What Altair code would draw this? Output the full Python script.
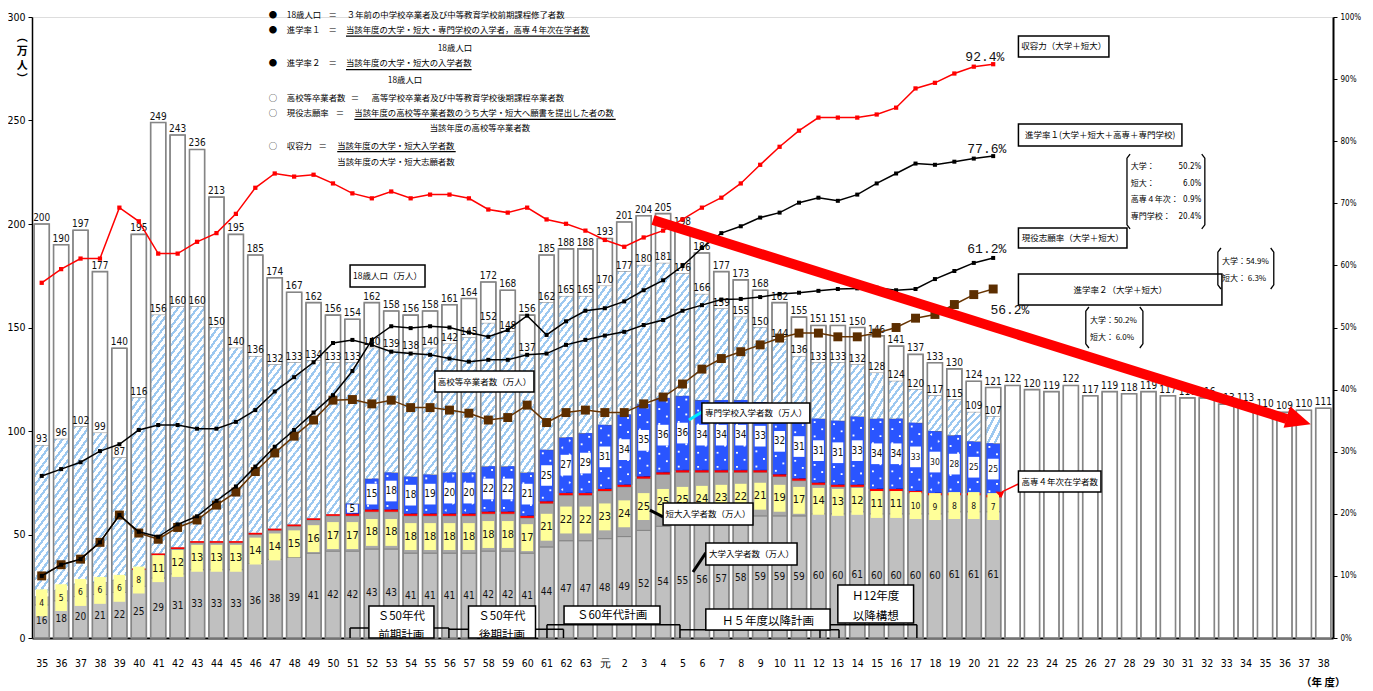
import altair as alt
import pandas as pd

# ---------------- data ----------------
tick_labels = [str(y) for y in range(35, 64)] + ["元"] + [str(y) for y in range(2, 39)]

pop = [200, 190, 197, 177, 140, 195, 249, 243, 236, 213, 195, 185, 174, 167, 162, 156,
       154, 162, 158, 156, 158, 161, 164, 172, 168, 156, 185, 188, 188, 193,
       201, 204, 205, 198, 186, 177, 173, 168, 162, 155, 151, 151, 150, 146, 141, 137, 133, 130, 124, 121,
       122, 120, 119, 122, 117, 119, 118, 119, 117, 116, 116, 113, 113, 110, 109, 110, 111]
hs = [93, 96, 102, 99, 87, 116, 156, 160, 160, 150, 140, 136, 132, 133, 134, 133,
      133, 140, 139, 138, 140, 142, 145, 152, 148, 137, 162, 165, 165, 170,
      177, 180, 181, 176, 166, 159, 155, 150, 144, 136, 133, 133, 132, 128, 124, 120, 117, 115, 109, 107]
univ = [16, 18, 20, 21, 22, 25, 29, 31, 33, 33, 33, 36, 38, 39, 41, 42,
        42, 43, 43, 41, 41, 41, 41, 42, 42, 41, 44, 47, 47, 48,
        49, 52, 54, 55, 56, 57, 58, 59, 59, 59, 60, 60, 61, 60, 60, 60, 60, 61, 61, 61]
jc = [4, 5, 6, 6, 6, 8, 11, 12, 13, 13, 13, 14, 14, 15, 16, 17,
      17, 18, 18, 18, 18, 18, 18, 18, 18, 17, 21, 22, 22, 23,
      24, 25, 25, 25, 24, 23, 22, 21, 19, 17, 14, 13, 12, 11, 11, 10, 9, 8, 8, 7]
kosen = [0, 0, 0, 0, 0, 0.5, 0.8, 0.8, 0.8, 0.8, 0.8, 0.8, 0.8, 0.8, 0.8, 0.8,
         1, 1, 1, 1, 1, 1, 1, 1, 1, 1, 1, 1, 1, 1,
         1, 1, 1, 1, 1, 1, 1, 1, 1, 1, 1, 1, 1, 1, 1, 1, 1, 1, 1, 1.1]
sen = [0, 0, 0, 0, 0, 0, 0, 0, 0, 0, 0, 0, 0, 0, 0, 0,
       5, 15, 18, 18, 19, 20, 20, 22, 22, 21, 25, 27, 29, 31,
       34, 35, 36, 36, 34, 34, 34, 33, 32, 31, 31, 31, 33, 34, 34, 33, 30, 28, 25, 25]

shuyo = [57.2, 59.4, 61.1, 61.1, 69.3, 67.1, 61.9, 61.9, 63.8, 65.2, 68.3, 72.5, 74.8, 74.3, 74.6, 73.2,
         71.6, 70.8, 71.9, 70.8, 71.4, 71.4, 70.8, 69.0, 68.5, 69.3, 67.4, 66.7, 65.6, 64.1,
         63.0, 64.5, 65.6, 67.4, 69.3, 70.9, 73.2, 76.2, 79.1, 81.7, 83.8, 83.8, 83.8, 84.3, 85.4, 88.5,
         89.4, 90.9, 92.0, 92.4]
rate1 = [10.0, 11.8, 12.7, 15.4, 19.8, 17.1, 16.3, 18.3, 19.6, 22.1, 24.4, 27.6, 30.8, 33.5, 36.3, 39.1,
         43.0, 48.0, 50.2, 49.9, 50.2, 50.0, 49.2, 48.5, 49.6, 51.9, 48.8, 51.0, 52.7, 53.1,
         54.2, 56.0, 57.6, 59.9, 62.8, 65.2, 66.3, 67.7, 68.5, 70.1, 70.9, 70.4, 71.4, 73.2, 74.8, 76.4,
         76.2, 76.7, 77.2, 77.6]
shigan = [26.1, 27.2, 28.3, 30.1, 31.2, 33.5, 34.3, 34.3, 33.7, 33.7, 34.8, 36.7, 39.7, 42.0, 44.4, 47.5,
          48.0, 47.2, 46.1, 45.8, 45.6, 45.0, 44.5, 44.8, 44.8, 45.6, 45.8, 47.2, 48.0, 48.7,
          49.3, 50.4, 51.2, 52.7, 53.6, 54.5, 54.6, 54.9, 55.4, 55.6, 55.9, 56.2, 56.3, 56.4, 56.0, 56.2,
          57.8, 59.1, 60.4, 61.2]
rate2 = [10.0, 11.8, 12.7, 15.4, 19.8, 16.9, 15.9, 17.8, 19.0, 21.4, 23.5, 26.8, 29.8, 32.5, 35.1, 38.3,
         38.4, 37.7, 38.3, 37.1, 37.1, 36.7, 36.2, 35.1, 35.5, 37.5, 34.7, 36.3, 36.7, 36.3,
         36.3, 37.7, 38.8, 40.9, 43.3, 45.0, 46.1, 47.2, 48.3, 49.1, 49.1, 48.5, 48.5, 49.1, 50.0, 51.5,
         52.1, 53.7, 55.3, 56.2]

n = len(tick_labels)
N = len(hs)

NUMFONT = "Liberation Sans Narrow, DejaVu Sans Condensed, Liberation Sans, sans-serif"
JFONT = "Noto Sans CJK JP"
EDGE = "#858585"
BLUE = "#2a55ff"
HATCH = "#9cc8f0"

xs = alt.Scale(domain=[-0.5, n - 0.5], nice=False, zero=False)
yl = alt.Scale(domain=[0, 300], nice=False, zero=False)
yr = alt.Scale(domain=[0, 100], nice=False, zero=False)

js_labels = "[" + ",".join("'%s'" % s for s in tick_labels) + "]"
x_axis = alt.Axis(values=list(range(n)), labelExpr=js_labels + "[datum.value]", labelOverlap=False,
                  ticks=False, labelPadding=20, labelFontSize=10.5, labelFont=NUMFONT, labelColor="#000",
                  domainColor="#000", domainWidth=2, grid=False, title=None, labelFlush=False,
                  labelBound=False)
yl_axis = alt.Axis(values=list(range(0, 301, 50)), labelFontSize=10.5, labelFont=NUMFONT, labelColor="#000",
                   domainColor="#000", domainWidth=1.5, tickColor="#000", tickSize=4, labelPadding=3,
                   grid=False, title=None)
yr_axis = alt.Axis(orient="right", values=list(range(0, 101, 10)), labelExpr="datum.value + '%'",
                   labelFontSize=8, labelFont=NUMFONT, labelColor="#000", domainColor="#000",
                   domainWidth=2, tickColor="#000", tickSize=4, labelPadding=3, grid=False, title=None)


def XQ(f):
    return alt.X(f + ":Q", scale=xs, axis=x_axis)


def YL(f):
    return alt.Y(f + ":Q", scale=yl, axis=yl_axis)


def YT(f):
    return alt.Y(f + ":Q", scale=yl, axis=None)


def YR(f):
    return alt.Y(f + ":Q", scale=yr, axis=yr_axis)


# ---------------- derived tables ----------------
seg_rows, hatch_rows, dot_rows, kosen_rows = [], [], [], []
jc_lab, sen_lab = [], []
for i in range(n):
    if i < N:
        b = 0.0
        seg_rows.append(dict(i=i, seg="univ", y0=0, y1=univ[i]))
        b = univ[i]
        seg_rows.append(dict(i=i, seg="jc", y0=b, y1=b + jc[i]))
        jc_lab.append(dict(i=i, c=b + jc[i] / 2 - 1, t=str(jc[i]), fs=11 if jc[i] >= 11 else 8.5))
        b += jc[i]
        if kosen[i] > 0:
            kosen_rows.append(dict(i=i, y0=b, y1=b + kosen[i]))
            b += kosen[i]
        if sen[i] > 0:
            seg_rows.append(dict(i=i, seg="sen", y0=b, y1=b + sen[i]))
            k = max(1, round(sen[i] / 3.5))
            h = sen[i] / k
            for c in range(k):
                dot_rows.append(dict(i=i, y0=b + c * h, y1=b + (c + 1) * h, par=c % 2))
            hb = min(10, sen[i] * 0.8)
            sen_lab.append(dict(i=i, c=b + sen[i] / 2, b0=b + sen[i] / 2 - hb / 2,
                                b1=b + sen[i] / 2 + hb / 2, t=str(sen[i]), fs=10 if i < 45 else 8.5))
            b += sen[i]
        seg_rows.append(dict(i=i, seg="hatch", y0=b, y1=hs[i]))
        k = max(1, round((hs[i] - b) / 9))
        h = (hs[i] - b) / k
        for c in range(k):
            hatch_rows.append(dict(i=i, y0=b + c * h, y1=b + (c + 1) * h))
        seg_rows.append(dict(i=i, seg="white", y0=hs[i], y1=pop[i]))
    else:
        seg_rows.append(dict(i=i, seg="white", y0=0, y1=pop[i]))

seg_df = pd.DataFrame(seg_rows)
hatch_df = pd.DataFrame(hatch_rows)
dot_df = pd.DataFrame(dot_rows)
kosen_df = pd.DataFrame(kosen_rows)
jc_df = pd.DataFrame(jc_lab)
sen_df = pd.DataFrame(sen_lab)
pop_df = pd.DataFrame(dict(i=list(range(n)), v=pop, t=[str(v) for v in pop]))
hs_df = pd.DataFrame(dict(i=list(range(N)), v=hs, t=[str(v) for v in hs]))
univ_df = pd.DataFrame(dict(i=list(range(N)), v=[u / 2 for u in univ], t=[str(v) for v in univ]))

# ---------------- bars ----------------
bars = alt.Chart(seg_df).transform_calculate(xl="datum.i - 0.39", xr="datum.i + 0.39").mark_rect(
    strokeWidth=1).encode(
    x=XQ("xl"), x2="xr:Q", y=YL("y0"), y2="y1:Q",
    fill=alt.Fill("seg:N", scale=alt.Scale(domain=["univ", "jc", "sen", "hatch", "white"],
                                           range=["#c0c0c0", "#a9a9a9", BLUE, "#ffffff", "#ffffff"]), legend=None),
    stroke=alt.Stroke("seg:N", scale=alt.Scale(domain=["univ", "jc", "sen", "hatch", "white"],
                                               range=[EDGE, EDGE, "#0015b0", EDGE, EDGE]), legend=None),
)

stops = []
for p in range(4):
    a = p / 4
    m = a + 0.1
    stops += [alt.GradientStop(offset=a, color=HATCH), alt.GradientStop(offset=m, color=HATCH),
              alt.GradientStop(offset=m, color="#ffffff"), alt.GradientStop(offset=(p + 1) / 4, color="#ffffff")]
hatch_fill = alt.Gradient(gradient="linear", x1=0, y1=0, x2=1, y2=1, stops=stops)

hatch = alt.Chart(hatch_df).transform_calculate(xl="datum.i - 0.36", xr="datum.i + 0.36").mark_rect(
    fill=hatch_fill).encode(x=XQ("xl"), x2="xr:Q", y=YL("y0"), y2="y1:Q")


def dot_grad(cx):
    return alt.Gradient(gradient="radial", x1=cx, y1=0.5, r1=0, x2=cx, y2=0.5, r2=0.5,
                        stops=[alt.GradientStop(offset=0, color="#ffffff"),
                               alt.GradientStop(offset=0.28, color="#ffffff"),
                               alt.GradientStop(offset=0.34, color=BLUE),
                               alt.GradientStop(offset=1, color=BLUE)])


dots_a = alt.Chart(dot_df).transform_filter("datum.par == 0").transform_calculate(
    xl="datum.i - 0.34", xr="datum.i").mark_rect(fill=dot_grad(0.45)).encode(
    x=XQ("xl"), x2="xr:Q", y=YL("y0"), y2="y1:Q")
dots_b = alt.Chart(dot_df).transform_filter("datum.par == 1").transform_calculate(
    xl="datum.i", xr="datum.i + 0.34").mark_rect(fill=dot_grad(0.55)).encode(
    x=XQ("xl"), x2="xr:Q", y=YL("y0"), y2="y1:Q")

kosen_l = alt.Chart(kosen_df).transform_calculate(xl="datum.i - 0.37", xr="datum.i + 0.37").mark_rect(
    fill="#ff0000").encode(x=XQ("xl"), x2="xr:Q", y=YL("y0"), y2="y1:Q")

outline = alt.Chart(pop_df).transform_calculate(xl="datum.i - 0.39", xr="datum.i + 0.39", z="0").mark_rect(
    fillOpacity=0, stroke=EDGE, strokeWidth=1.6).encode(x=XQ("xl"), x2="xr:Q", y=YL("z"), y2="v:Q")

# ---------------- bar labels ----------------
lab_pop = alt.Chart(pop_df).mark_text(font=NUMFONT, fontSize=10, baseline="alphabetic", dy=-3,
                                      color="#111").encode(x=XQ("i"), y=YL("v"), text="t:N")
lab_hs = alt.Chart(hs_df).mark_text(font=NUMFONT, fontSize=10, baseline="alphabetic", dy=-3,
                                    color="#111").encode(x=XQ("i"), y=YL("v"), text="t:N")
lab_univ = alt.Chart(univ_df).mark_text(font=NUMFONT, fontSize=10, baseline="middle",
                                        color="#111").encode(x=XQ("i"), y=YL("v"), text="t:N")
jc_box = alt.Chart(jc_df).transform_calculate(xl="datum.i - 0.3", xr="datum.i + 0.3", b0="datum.c - 6.5",
                                              b1="datum.c + 6.5").mark_rect(fill="#ffff99").encode(
    x=XQ("xl"), x2="xr:Q", y=YL("b0"), y2="b1:Q")
jc_txt = alt.Chart(jc_df).mark_text(font=NUMFONT, baseline="middle", color="#111").encode(
    x=XQ("i"), y=YL("c"), text="t:N", size=alt.Size("fs:Q", scale=None, legend=None))
sen_box = alt.Chart(sen_df).transform_calculate(xl="datum.i - 0.28", xr="datum.i + 0.28").mark_rect(
    fill="#ffffff").encode(x=XQ("xl"), x2="xr:Q", y=YL("b0"), y2="b1:Q")
sen_txt = alt.Chart(sen_df).mark_text(font=NUMFONT, baseline="middle", color="#111").encode(
    x=XQ("i"), y=YL("c"), text="t:N", size=alt.Size("fs:Q", scale=None, legend=None))

# ---------------- annotations (data units: x = year index, y = 万人) ----------------
def_left = pd.DataFrame([
    (11.69, 301.0, "●"), (12.62, 301.0, "18歳人口"), (15.71, 301.0, "３年前の中学校卒業者及び中等教育学校前期課程修了者数"),
    (11.69, 293.7, "●"), (12.62, 293.7, "進学率１"), (15.67, 293.7, "当該年度の大学・短大・専門学校の入学者，高専４年次在学者数"),
    (11.69, 277.6, "●"), (12.62, 277.6, "進学率２"), (15.67, 277.6, "当該年度の大学・短大の入学者数"),
    (11.69, 261.0, "○"), (12.62, 261.0, "高校等卒業者数"), (16.99, 261.0, "高等学校卒業者及び中等教育学校後期課程卒業者数"),
    (11.69, 253.5, "○"), (12.62, 253.5, "現役志願率"), (16.10, 253.5, "当該年度の高校等卒業者数のうち大学・短大へ願書を提出した者の数"),
    (11.69, 237.8, "○"), (12.62, 237.8, "収容力"), (15.22, 237.8, "当該年度の大学・短大入学者数"),
], columns=["x", "y", "t"])
def_center = pd.DataFrame([
    (14.98, 301.0, "＝"), (14.98, 293.7, "＝"), (14.98, 277.6, "＝"), (16.13, 261.0, "＝"),
    (15.36, 253.5, "＝"), (14.47, 237.8, "＝"),
    (21.28, 285.2, "18歳人口"), (18.71, 269.6, "18歳人口"), (22.57, 246.2, "当該年度の高校等卒業者数"),
    (18.24, 229.8, "当該年度の大学・短大志願者数"),
], columns=["x", "y", "t"])
underl = pd.DataFrame([(15.67, 28.23, 290.8), (15.67, 22.14, 274.6), (16.10, 29.56, 250.5),
                       (15.22, 21.32, 235.0)], columns=["x", "x2", "y"])

boxes = pd.DataFrame([
    (15.88, 19.74, 169.6, 180.2, "18歳人口（万人）"),
    (20.25, 25.35, 118.8, 129.0, "高校等卒業者数（万人）"),
    (34.0, 39.56, 103.9, 113.5, "専門学校入学者数（万人）"),
    (32.0, 36.63, 54.6, 65.2, "短大入学者数（万人）"),
    (34.2, 38.9, 35.3, 45.9, "大学入学者数（万人）"),
    (50.3, 54.55, 70.5, 80.7, "高専４年次在学者数"),
    (50.3, 54.96, 280.7, 290.8, "収容力（大学＋短大）"),
    (50.3, 58.72, 237.7, 248.3, "進学率１(大学＋短大＋高専＋専門学校)"),
    (50.3, 55.89, 188.4, 198.1, "現役志願率（大学＋短大）"),
    (50.3, 60.78, 160.9, 175.8, "進学率２（大学＋短大）"),
], columns=["x", "x2", "y", "y2", "t"])
boxes["cx"] = (boxes["x"] + boxes["x2"]) / 2
boxes["cy"] = (boxes["y"] + boxes["y2"]) / 2

plan_boxes = pd.DataFrame([
    (16.85, 20.2, 0, 15.5), (21.98, 25.43, 0, 15.5), (26.9, 31.84, 6.8, 15.5),
    (34.2, 40.6, 3.9, 14.0), (41.0, 44.9, 7.2, 25.6)], columns=["x", "x2", "y", "y2"])
plan_text = pd.DataFrame([
    (18.52, 10.3, "Ｓ50年代"), (18.52, 1.2, "前期計画"), (23.7, 10.3, "Ｓ50年代"), (23.7, 1.2, "後期計画"),
    (29.37, 10.8, "Ｓ60年代計画"), (37.4, 7.8, "Ｈ５年度以降計画"), (42.95, 20.0, "Ｈ12年度"),
    (42.95, 10.0, "以降構想")], columns=["x", "y", "t"])
plan_lines = pd.DataFrame([
    (15.88, 4.8, 20.97, 4.8), (15.88, 4.8, 15.88, 0), (20.97, 4.8, 20.97, 0),
    (20.95, 4.2, 26.87, 4.2), (26.87, 4.2, 26.87, 0),
    (26.02, 6.4, 32.87, 6.4), (26.02, 6.4, 26.02, 0), (32.87, 6.4, 32.87, 0),
    (32.87, 4.0, 41.06, 4.0), (41.06, 4.0, 41.06, 0),
    (40.08, 6.4, 45.07, 6.4), (40.08, 6.4, 40.08, 0), (45.07, 6.4, 45.07, 0)],
    columns=["x", "y", "x2", "y2"])

leaders_black = pd.DataFrame([(31.32, 61.8, 32.0, 58.5), (33.54, 31.9, 34.2, 41.1)],
                             columns=["x", "y", "x2", "y2"])
leader_cyan = pd.DataFrame([(33.33, 105.3, 34.0, 109.2)], columns=["x", "y", "x2", "y2"])
leader_red = pd.DataFrame([(50.3, 74.4, 49.45, 70.6)], columns=["x", "y", "x2", "y2"])
red_head = pd.DataFrame([(49.3, 69.9)], columns=["x", "y"])

brackets = pd.DataFrame([
    (0, 0, 56.05, 233.8), (0, 1, 55.89, 231.8), (0, 2, 55.89, 199.6), (0, 3, 56.05, 197.6),
    (1, 0, 59.74, 233.8), (1, 1, 59.9, 231.8), (1, 2, 59.9, 199.6), (1, 3, 59.74, 197.6),
    (2, 0, 60.73, 188.4), (2, 1, 60.57, 186.4), (2, 2, 60.57, 170.6), (2, 3, 60.73, 168.6),
    (3, 0, 63.29, 188.4), (3, 1, 63.45, 186.4), (3, 2, 63.45, 170.6), (3, 3, 63.29, 168.6),
    (4, 0, 53.93, 159.9), (4, 1, 53.77, 157.9), (4, 2, 53.77, 142.1), (4, 3, 53.93, 140.1),
    (5, 0, 56.55, 159.9), (5, 1, 56.71, 157.9), (5, 2, 56.71, 142.1), (5, 3, 56.55, 140.1),
], columns=["g", "o", "x", "y"])
br_left = pd.DataFrame([
    (56.09, 227.5, "大学："), (56.09, 219.3, "短大："), (56.09, 211.6, "高専４年次："), (56.09, 203.4, "専門学校："),
    (60.78, 181.6, "大学：54.9%"), (60.78, 173.4, "短大：  6.3%"),
    (53.98, 153.1, "大学：50.2%"), (53.98, 144.9, "短大：  6.0%"),
], columns=["x", "y", "t"])
br_right = pd.DataFrame([(59.72, 227.5, "50.2%"), (59.72, 219.3, "6.0%"), (59.72, 211.6, "0.9%"),
                         (59.72, 203.4, "20.4%")], columns=["x", "y", "t"])

end_labels = pd.DataFrame([(48.57, 280.7, "92.4%"), (48.67, 236.2, "77.6%"), (48.67, 187.9, "61.2%"),
                           (49.86, 158.5, "56.2%")], columns=["x", "y", "t"])

arrow_shaft = pd.DataFrame([(31.48, 201.9, 64.12, 105.8)], columns=["x", "y", "x2", "y2"])
arrow_head = pd.DataFrame([(64.74, 105.0)], columns=["x", "y"])

unit_lab = pd.DataFrame([(-1.0, 290.0)], columns=["x", "y"])
year_lab = pd.DataFrame([(66.0, -21.5)], columns=["x", "y"])


def txt(df, align="left", font=JFONT, size=8.4, color="#000", weight="normal", yenc=YL, **kw):
    return alt.Chart(df).mark_text(align=align, baseline="middle", font=font, fontSize=size, color=color,
                                   fontWeight=weight, **kw).encode(x=XQ("x"), y=yenc("y"), text="t:N")


def seg(df, color, width, yenc=YL, **kw):
    return alt.Chart(df).mark_rule(color=color, strokeWidth=width, **kw).encode(
        x=XQ("x"), x2="x2:Q", y=yenc("y"), y2="y2:Q")


ann_layers = [
    txt(def_left), txt(def_center, align="center"),
    alt.Chart(underl).mark_rule(color="#000", strokeWidth=1.2).encode(x=XQ("x"), x2="x2:Q", y=YL("y")),
    seg(plan_lines, "#000", 1.5),
    alt.Chart(plan_boxes).mark_rect(fill="#ffffff", stroke="#000", strokeWidth=1.5).encode(
        x=XQ("x"), x2="x2:Q", y=YL("y"), y2="y2:Q"),
    txt(plan_text, align="center", size=11.5, clip=True),
    seg(leaders_black, "#000", 3), seg(leader_cyan, "#00e8ff", 3), seg(leader_red, "#ff0000", 1.5),
    alt.Chart(red_head).mark_point(shape="M-1,-0.8L1,0L-1,0.8Z", size=64, filled=True, color="#ff0000",
                                   opacity=1, angle=205).encode(x=XQ("x"), y=YL("y")),
    alt.Chart(boxes).mark_rect(fill="#ffffff", stroke="#000", strokeWidth=1.5).encode(
        x=XQ("x"), x2="x2:Q", y=YL("y"), y2="y2:Q"),
    alt.Chart(boxes).mark_text(font=JFONT, fontSize=8.5, color="#000", baseline="middle").encode(
        x=XQ("cx"), y=YL("cy"), text="t:N"),
    alt.Chart(brackets).mark_line(color="#000", strokeWidth=1.3).encode(
        x=XQ("x"), y=YL("y"), detail="g:N", order="o:Q"),
    txt(br_left, size=8), txt(br_right, align="right", size=8, font=NUMFONT),
    alt.Chart(unit_lab).mark_text(text=["︵", "万", "人", "︶"], font=JFONT, fontSize=11, fontWeight="bold",
                                  lineHeight=14, baseline="middle", align="center").encode(x=XQ("x"), y=YL("y")),
    alt.Chart(year_lab).mark_text(text="（年 度）", font=JFONT, fontSize=10.5, fontWeight="bold",
                                  baseline="middle", align="center").encode(x=XQ("x"), y=YL("y")),
]

left_group = alt.layer(bars, hatch, dots_a, dots_b, kosen_l, outline, lab_pop, lab_hs, lab_univ,
                       jc_box, jc_txt, sen_box, sen_txt, *ann_layers)

# ---------------- lines (right axis) ----------------
idx = list(range(N))
df_shuyo = pd.DataFrame(dict(i=idx, v=shuyo))
df_r1 = pd.DataFrame(dict(i=idx, v=rate1))
df_sg = pd.DataFrame(dict(i=idx, v=shigan))
df_r2 = pd.DataFrame(dict(i=idx, v=rate2))


def rline(df, color, msize, mcolor):
    return alt.Chart(df).mark_line(color=color, strokeWidth=1.5, point=alt.OverlayMarkDef(
        shape="square", size=msize, filled=True, color=mcolor, opacity=1)).encode(x=XQ("i"), y=YR("v"))


right_group = alt.layer(rline(df_shuyo, "#ff0000", 18, "#ff0000"), rline(df_sg, "#000", 16, "#000"),
                        rline(df_r2, "#663300", 80, "#5c2e00"), rline(df_r1, "#000", 16, "#000"))

top_group = alt.layer(
    txt(end_labels, align="center", font="Liberation Mono", size=13, color="#111", yenc=YT),
    seg(arrow_shaft, "#ff0000", 10, yenc=YT, strokeCap="butt"),
    alt.Chart(arrow_head).mark_point(shape="M-1,-0.9L1,0L-1,0.9Z", size=625, filled=True, color="#ff0000",
                                     opacity=1, angle=17).encode(x=XQ("x"), y=YT("y")),
)

chart = alt.layer(left_group, right_group, top_group).resolve_scale(y="independent").properties(
    width=1301, height=621, autosize=alt.AutoSizeParams(type="none"),
    padding={"left": 24, "top": 9, "right": 32, "bottom": 50},
).configure_view(stroke=None).configure(background="#ffffff")

chart.save("out.html", embed_options={"renderer": "svg", "actions": False})
